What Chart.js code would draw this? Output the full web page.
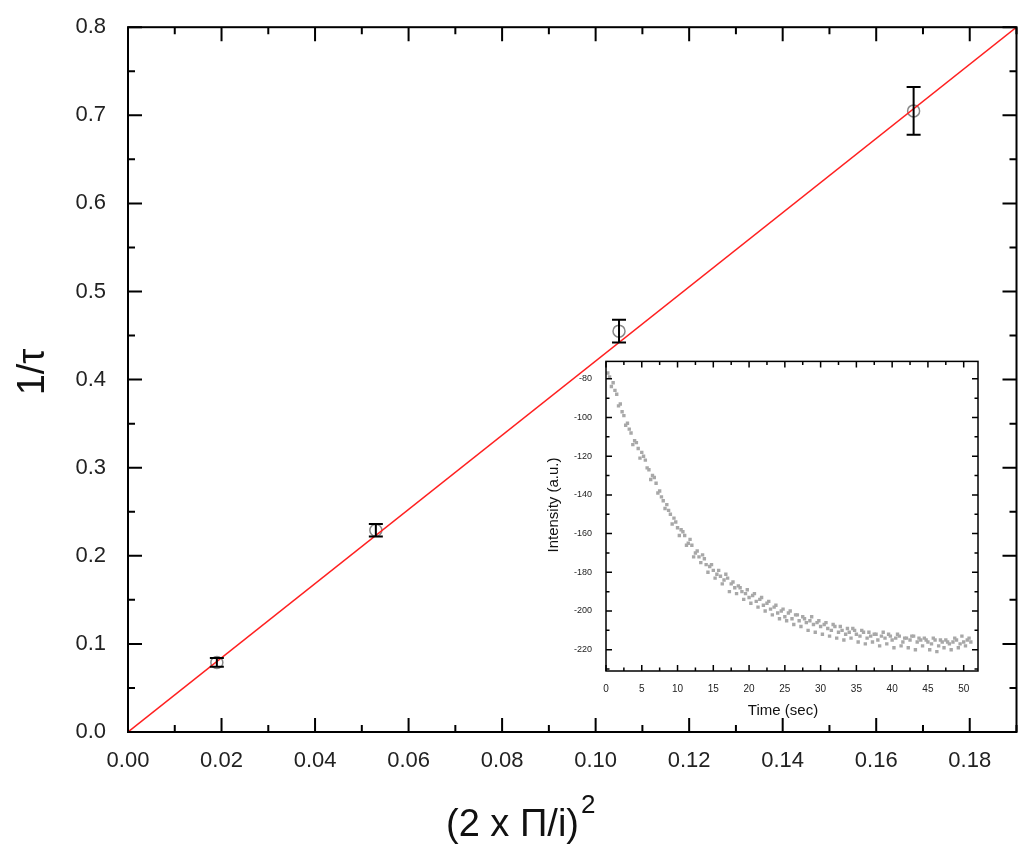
<!DOCTYPE html>
<html><head><meta charset="utf-8">
<script src="https://cdn.jsdelivr.net/npm/chart.js@4/dist/chart.umd.min.js"></script>
<style>
html,body{margin:0;padding:0;background:#fff;}
#wrap{position:relative;width:1024px;height:861px;}
#main{position:absolute;left:0;top:0;}
#inset{position:absolute;left:540px;top:350px;}
</style></head><body>
<div id="wrap">
<canvas id="main" width="1024" height="861"></canvas>
<canvas id="inset" width="445" height="372"></canvas>
</div>
<script>
// main plot: 1/tau vs (2 pi / i)^2
const qX    = [0.019, 0.053, 0.105, 0.168];
const rateY = [0.079, 0.229, 0.455, 0.705];
const errY  = [0.005, 0.007, 0.013, 0.027];
const fitX  = [0, 0.19];
const fitY  = [0, 0.80];
const mainXTicks = [0, 0.02, 0.04, 0.06, 0.08, 0.10, 0.12, 0.14, 0.16, 0.18];
const mainYTicks = [0, 0.1, 0.2, 0.3, 0.4, 0.5, 0.6, 0.7, 0.8];

// inset: intensity decay
const tA = [], tB = [];
for (let i = 1; i <= 102; i++) { tA.push(i * 0.5); tB.push(i * 0.5 - 0.25); }
const intA = [-79,-82,-88,-93,-99,-103,-108,-112,-116,-118,
  -122,-127,-130,-134,-138,-143,-145,-150,-152,-157,
  -158,-161,-165,-166,-170,-172,-171,-176,-177,-179,
  -181,-182,-184,-183,-186,-188,-187,-190,-191,-193,
  -192,-195,-194,-197,-196,-199,-198,-201,-200,-203,
  -201,-204,-202,-205,-203,-206,-205,-207,-206,-208,
  -207,-209,-210,-208,-211,-210,-212,-211,-209,-212,
  -213,-211,-214,-213,-212,-215,-213,-214,-212,-215,
  -214,-213,-216,-214,-215,-213,-216,-215,-214,-216,
  -217,-215,-218,-216,-215,-217,-216,-215,-217,-216,-215,-216];
const intB = [-77,-84,-86,-94,-97,-104,-106,-114,-113,-121,
  -120,-126,-132,-131,-139,-141,-147,-148,-155,-154,
  -161,-159,-166,-163,-172,-169,-175,-173,-180,-176,
  -183,-179,-186,-181,-190,-185,-191,-188,-194,-189,
  -196,-191,-198,-193,-200,-195,-202,-197,-204,-199,
  -205,-200,-207,-202,-208,-204,-210,-203,-211,-205,
  -212,-206,-213,-207,-214,-208,-215,-209,-214,-210,
  -216,-210,-217,-211,-216,-212,-218,-211,-217,-213,
  -219,-212,-218,-214,-219,-213,-220,-214,-218,-215,
  -220,-214,-221,-215,-219,-216,-220,-214,-219,-213,-218,-214];
const insetXTicks = [0, 5, 10, 15, 20, 25, 30, 35, 40, 45, 50];
const insetYTicks = [-220, -200, -180, -160, -140, -120, -100, -80];

const FONT = '"Liberation Sans", Arial, sans-serif';
const near = (v, s) => Math.abs(v / s - Math.round(v / s)) < 1e-6;
const fixTicks = list => s => { s.ticks = list.map(v => ({ value: v })); };

// box + inward ticks on all four sides
function frame(opt) {
  return {
    id: 'frame',
    afterDraw(c) {
      const { ctx, chartArea: a, scales: { x, y } } = c;
      ctx.save();
      ctx.strokeStyle = '#000';
      ctx.lineWidth = opt.lw;
      ctx.strokeRect(a.left, a.top, a.right - a.left, a.bottom - a.top);
      ctx.beginPath();
      for (let v = x.min; v <= x.max + 1e-9; v += opt.xMinor) {
        const p = x.getPixelForValue(v), L = near(v, opt.xMajor) ? opt.big : opt.small;
        ctx.moveTo(p, a.bottom); ctx.lineTo(p, a.bottom - L);
        ctx.moveTo(p, a.top); ctx.lineTo(p, a.top + L);
      }
      for (let v = Math.ceil(y.min / opt.yMinor) * opt.yMinor; v <= y.max + 1e-9; v += opt.yMinor) {
        const p = y.getPixelForValue(v), L = near(v, opt.yMajor) ? opt.big : opt.small;
        ctx.moveTo(a.left, p); ctx.lineTo(a.left + L, p);
        ctx.moveTo(a.right, p); ctx.lineTo(a.right - L, p);
      }
      ctx.stroke();
      ctx.restore();
    }
  };
}

const errorBars = {
  id: 'errorBars',
  afterDatasetsDraw(c) {
    const { ctx, scales: { x, y } } = c;
    ctx.save();
    ctx.strokeStyle = '#000';
    ctx.lineWidth = 2;
    qX.forEach((q, i) => {
      const px = x.getPixelForValue(q);
      const lo = y.getPixelForValue(rateY[i] - errY[i]);
      const hi = y.getPixelForValue(rateY[i] + errY[i]);
      ctx.beginPath();
      ctx.moveTo(px, lo); ctx.lineTo(px, hi);
      ctx.moveTo(px - 7, lo); ctx.lineTo(px + 7, lo);
      ctx.moveTo(px - 7, hi); ctx.lineTo(px + 7, hi);
      ctx.stroke();
    });
    ctx.restore();
  }
};

const mainTitles = {
  id: 'mainTitles',
  afterDraw(c) {
    const { ctx } = c;
    ctx.save();
    ctx.fillStyle = '#111';
    ctx.font = '38px ' + FONT;
    ctx.textBaseline = 'middle';
    ctx.textAlign = 'left';
    ctx.fillText('(2 x \u03A0/i)', 446, 826);
    const w = ctx.measureText('(2 x \u03A0/i)').width;
    ctx.font = '26px ' + FONT;
    ctx.fillText('2', 446 + w + 2, 806);
    ctx.translate(34, 372);
    ctx.rotate(-Math.PI / 2);
    ctx.textAlign = 'center';
    ctx.font = '38px ' + FONT;
    ctx.fillText('1/\u03C4', 0, 0);
    ctx.restore();
  }
};

new Chart(document.getElementById('main'), {
  type: 'scatter',
  data: {
    datasets: [
      {
        type: 'line',
        data: fitX.map((v, i) => ({ x: v, y: fitY[i] })),
        borderColor: '#ff2020', borderWidth: 1.5, pointRadius: 0, fill: false
      },
      {
        data: qX.map((v, i) => ({ x: v, y: rateY[i] })),
        pointStyle: 'circle', pointRadius: 6,
        borderColor: '#888', borderWidth: 1.5, backgroundColor: '#fff'
      }
    ]
  },
  options: {
    responsive: false, animation: false, events: [],
    layout: { padding: { top: 0, right: 3 } },
    plugins: { legend: { display: false }, tooltip: { enabled: false } },
    scales: {
      x: {
        type: 'linear', min: 0, max: 0.19,
        afterBuildTicks: fixTicks(mainXTicks),
        afterFit: s => { s.height = 129; },
        grid: { display: false }, border: { display: false },
        ticks: { color: '#222', padding: 8, font: { family: FONT, size: 22 },
                 callback: v => v.toFixed(2) }
      },
      y: {
        type: 'linear', min: 0, max: 0.8,
        afterBuildTicks: fixTicks(mainYTicks),
        afterFit: s => { s.width = 128; },
        grid: { display: false }, border: { display: false },
        ticks: { color: '#222', padding: 14, font: { family: FONT, size: 22 },
                 callback: v => v.toFixed(1) }
      }
    }
  },
  plugins: [frame({ lw: 2, xMajor: 0.02, xMinor: 0.01, yMajor: 0.1, yMinor: 0.05, big: 14, small: 7 }), errorBars, mainTitles]
});

const insetTitles = {
  id: 'insetTitles',
  afterDraw(c) {
    const { ctx } = c;
    ctx.save();
    ctx.fillStyle = '#111';
    ctx.font = '15px ' + FONT;
    ctx.textAlign = 'center';
    ctx.textBaseline = 'middle';
    ctx.fillText('Time (sec)', 243, 361);
    ctx.translate(14, 155);
    ctx.rotate(-Math.PI / 2);
    ctx.fillText('Intensity (a.u.)', 0, 0);
    ctx.restore();
  }
};

new Chart(document.getElementById('inset'), {
  type: 'scatter',
  data: {
    datasets: [
      { data: tA.map((v, i) => ({ x: v, y: intA[i] })) },
      { data: tB.map((v, i) => ({ x: v, y: intB[i] })) }
    ].map(d => Object.assign(d, { pointStyle: 'rect', pointRadius: 2.4, borderWidth: 0, backgroundColor: '#a8a8a8' }))
  },
  options: {
    responsive: false, animation: false, events: [],
    layout: { padding: { top: 6, right: 7 } },
    plugins: { legend: { display: false }, tooltip: { enabled: false } },
    scales: {
      x: {
        type: 'linear', min: 0, max: 52,
        afterBuildTicks: fixTicks(insetXTicks),
        afterFit: s => { s.height = 372 - 321; },
        grid: { display: false }, border: { display: false },
        ticks: { color: '#222', padding: 4, font: { family: FONT, size: 10 } }
      },
      y: {
        type: 'linear', min: -231, max: -71,
        afterBuildTicks: fixTicks(insetYTicks),
        afterFit: s => { s.width = 66; },
        grid: { display: false }, border: { display: false },
        ticks: { color: '#222', padding: 6, font: { family: FONT, size: 9 } }
      }
    }
  },
  plugins: [frame({ lw: 1.5, xMajor: 5, xMinor: 2.5, yMajor: 20, yMinor: 10, big: 6, small: 3.5 }), insetTitles]
});
</script>
</body></html>
